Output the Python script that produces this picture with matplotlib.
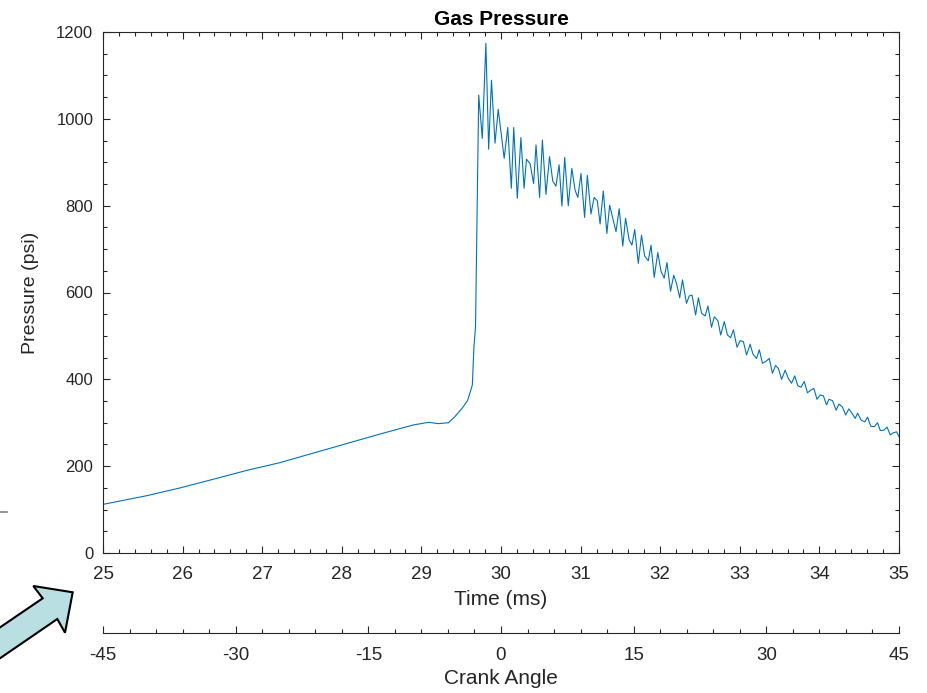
import numpy as np
import matplotlib
matplotlib.use("Agg")
import matplotlib.pyplot as plt
from matplotlib.ticker import MultipleLocator
from matplotlib.patches import Polygon
from matplotlib.lines import Line2D

plt.rcParams['font.family'] = ['Liberation Sans', 'DejaVu Sans']
plt.rcParams['axes.unicode_minus'] = False

# ---- data ----
time_ms = [25.00, 25.55, 25.97, 26.43, 26.80, 27.22, 27.64, 28.06, 28.48, 28.90,
           29.09, 29.21, 29.34, 29.42, 29.51, 29.58, 29.64, 29.66, 29.68,
           29.72, 29.765, 29.81, 29.845, 29.88, 29.925, 29.965, 30.04, 30.085, 30.13,
           30.16, 30.205, 30.25, 30.29, 30.32, 30.365, 30.41, 30.44, 30.485, 30.52,
           30.565, 30.61, 30.65, 30.69, 30.73, 30.765, 30.80, 30.845, 30.89, 30.93,
           30.965, 31.005, 31.05, 31.085, 31.13, 31.17, 31.21, 31.245, 31.285, 31.33,
           31.365, 31.405, 31.445, 31.485, 31.53, 31.565, 31.61, 31.645, 31.68, 31.725,
           31.765, 31.805, 31.85, 31.885, 31.925, 31.97, 32.01, 32.05, 32.085, 32.13,
           32.17, 32.205, 32.245, 32.28, 32.33, 32.365, 32.40, 32.445, 32.48, 32.52,
           32.565, 32.60, 32.645, 32.68, 32.725, 32.76, 32.805, 32.845, 32.885, 32.92,
           32.965, 33.005, 33.045, 33.085, 33.13, 33.165, 33.21, 33.245, 33.285, 33.325,
           33.37, 33.41, 33.45, 33.485, 33.525, 33.57, 33.61, 33.65, 33.69, 33.73,
           33.77, 33.81, 33.85, 33.89, 33.93, 33.97, 34.01, 34.05, 34.09, 34.12,
           34.165, 34.21, 34.245, 34.29, 34.33, 34.37, 34.405, 34.45, 34.48, 34.525,
           34.57, 34.605, 34.645, 34.69, 34.73, 34.765, 34.81, 34.85, 34.89, 34.93,
           34.97, 35.00]
pressure_psi = [112, 132, 150, 172, 190, 208, 230, 252, 274, 295,
                301, 298, 300, 314, 333, 351, 387, 475, 521,
                1055, 955, 1174, 930, 1089, 944, 1022, 909, 980, 840,
                980, 817, 957, 840, 907, 897, 851, 940, 819, 951,
                826, 913, 857, 845, 894, 799, 911, 800, 886, 836,
                819, 874, 773, 870, 781, 819, 811, 758, 834, 736,
                801, 771, 740, 793, 707, 771, 721, 709, 745, 667,
                732, 684, 673, 709, 635, 692, 649, 633, 669, 603,
                640, 621, 588, 629, 575, 592, 594, 548, 588, 552,
                546, 569, 520, 544, 535, 502, 533, 502, 496, 514,
                474, 489, 487, 456, 481, 458, 448, 468, 437, 441,
                448, 414, 432, 425, 400, 421, 402, 391, 408, 385,
                382, 395, 369, 375, 379, 354, 364, 362, 341, 354,
                351, 329, 343, 336, 318, 332, 323, 310, 322, 306,
                302, 313, 292, 291, 300, 282, 283, 290, 272, 277,
                279, 268]

time_ticks = [25, 26, 27, 28, 29, 30, 31, 32, 33, 34, 35]
pressure_ticks = [0, 200, 400, 600, 800, 1000, 1200]
crank_ticks = [-45, -30, -15, 0, 15, 30, 45]

W, H = 927, 693
TXT = '#262626'
AX = '#262626'

fig = plt.figure(figsize=(W / 100, H / 100), dpi=100)
fig.patch.set_facecolor('white')

# main axes
ax = fig.add_axes([103 / W, 1 - 553 / H, 796 / W, 521 / H])
ax.plot(time_ms, pressure_psi, color='#0072BD', lw=0.8)
ax.set_xlim(25, 35)
ax.set_ylim(0, 1200)
ax.set_xticks(time_ticks)
ax.set_yticks(pressure_ticks)
ax.xaxis.set_minor_locator(MultipleLocator(0.2))
ax.yaxis.set_minor_locator(MultipleLocator(50))
ax.tick_params(which='both', direction='in', top=True, right=True, colors=AX,
               labelcolor=TXT, width=0.8)
ax.tick_params(which='major', length=5)
ax.tick_params(which='minor', length=2.8)
ax.tick_params(axis='x', pad=9.5, labelsize=13.5)
ax.tick_params(axis='y', pad=7, labelsize=12)
for s in ax.spines.values():
    s.set_color(AX)
    s.set_linewidth(0.8)
ax.set_xlabel('Time (ms)', fontsize=15, color=TXT, labelpad=5)
ax.set_ylabel('Pressure (psi)', fontsize=14, color=TXT, labelpad=12)
ax.set_title('Gas Pressure', fontsize=15, fontweight='bold', color='black', pad=5)

# crank-angle axis
ax2 = fig.add_axes([103 / W, 1 - 633 / H, 796 / W, 0.0005])
ax2.set_xlim(-45, 45)
ax2.set_xticks(crank_ticks)
ax2.xaxis.set_minor_locator(MultipleLocator(3))
ax2.set_yticks([])
for k in ('top', 'left', 'right'):
    ax2.spines[k].set_visible(False)
ax2.spines['bottom'].set_color(AX)
ax2.spines['bottom'].set_linewidth(0.8)
ax2.patch.set_visible(False)
ax2.tick_params(which='both', direction='in', colors=AX, labelcolor=TXT,
                labelsize=13.5, width=0.8, pad=10)
ax2.tick_params(which='major', length=5)
ax2.tick_params(which='minor', length=2.8)
ax2.set_xlabel('Crank Angle', fontsize=15, color=TXT, labelpad=4)

# decorative arrow (figure pixel coords)
pts = [(72.7, 592.3), (33.3, 586.0), (42.7, 598.3), (-20, 641.0),
       (-20, 672.0), (57.3, 619.0), (65.0, 632.7)]
arrow = Polygon([(x / W, 1 - y / H) for x, y in pts], closed=True,
                transform=fig.transFigure, facecolor='#B9DFE3',
                edgecolor='black', lw=1.5, joinstyle='miter')
fig.patches.append(arrow)

fig.add_artist(Line2D([0, 7 / W], [1 - 512 / H, 1 - 512 / H],
                      color='#808080', lw=1.2, transform=fig.transFigure))

fig.savefig('out.png', dpi=100)
